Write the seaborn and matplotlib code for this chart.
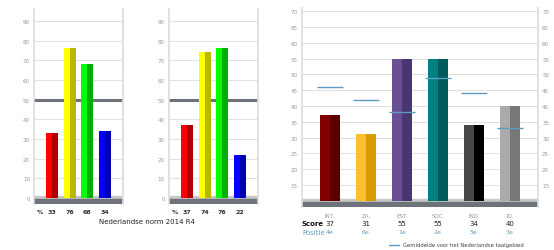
import numpy as np
import matplotlib
matplotlib.use("Agg")
import matplotlib.pyplot as plt
from matplotlib.patches import Rectangle
import seaborn as sns

# Data
groups = ["a", "b", "c", "d"]
norm_left = [33, 76, 68, 34]
norm_right = [37, 74, 76, 22]
norm_light = ["#ff0000", "#ffff00", "#00ff00", "#0000ff"]
norm_dark = ["#b00000", "#b8b800", "#00b000", "#0000b0"]

categories = ["INT.", "ZA.", "EST.", "SOC.", "IND.", "ID."]
scores = [37, 31, 55, 55, 34, 40]
positions = ["4e", "6e", "1e", "2e", "5e", "3e"]
averages = [46, 42, 38, 49, 44, 33]
score_light = ["#800000", "#fbbf2f", "#6a4f93", "#008080", "#474747", "#aaaaaa"]
score_dark = ["#5a0000", "#d89a00", "#4a3770", "#005c5c", "#000000", "#777777"]

sns.set_style("white")
plt.rcParams["font.family"] = ["DejaVu Sans"]

fig = plt.figure(figsize=(5.54, 2.51), dpi=100)

def split_bars(ax, darks):
    # right half of every bar in a darker shade, for the 3D look
    for patch, col in zip(ax.patches, darks):
        x, w, h, y0 = patch.get_x(), patch.get_width(), patch.get_height(), patch.get_y()
        ax.add_patch(Rectangle((x + w / 2, y0), w / 2, h, color=col, lw=0, zorder=patch.get_zorder() + 0.1))

def style_axes(ax, ticks):
    ax.set_yticks(ticks)
    ax.grid(axis="y", color="#e2e2e2", lw=0.8)
    ax.set_axisbelow(True)
    for s in ["top", "bottom"]:
        ax.spines[s].set_visible(False)
    for s in ["left", "right"]:
        ax.spines[s].set_color("#dcdcdc")
        ax.spines[s].set_linewidth(1.2)
    ax.tick_params(axis="y", length=0, labelsize=4, labelcolor="#999999", pad=3)
    ax.set_xticks([])
    ax.set_xlabel("")
    ax.set_ylabel("")

# two small norm charts
for left, vals in [(0.0614, norm_left), (0.305, norm_right)]:
    ax = fig.add_axes([left, 0.183, 0.1606, 0.777])
    sns.barplot(x=groups, y=vals, hue=groups, palette=norm_light, legend=False,
                width=0.67, saturation=1, linewidth=0, ax=ax, zorder=3)
    split_bars(ax, norm_dark)
    ax.set_xlim(-1, 4)
    ax.set_ylim(-3, 96)
    style_axes(ax, range(0, 91, 10))
    ax.axhspan(-0.5, 1.2, color="#c8c8c8", zorder=1)
    ax.axhspan(-3, -0.5, color="#6e737a", zorder=1)
    ax.axhline(50, color="#6e737a", lw=2.2, zorder=2)
    tr = ax.get_xaxis_transform()
    ax.text(-0.85, -0.037, "%", transform=tr, fontsize=4.5, fontweight="bold", color="#333333", va="center")
    for i, v in enumerate(vals):
        ax.text(i, -0.037, str(v), transform=tr, fontsize=4.5, fontweight="bold",
                color="#333333", ha="center", va="center")

fig.text(0.265, 0.116, "Nederlandse norm 2014 R4", fontsize=5, color="#222222", ha="center", va="center")

# score chart
ax = fig.add_axes([0.545, 0.171, 0.426, 0.793])
sns.barplot(x=categories, y=[s - 10 for s in scores], bottom=10, hue=categories, palette=score_light,
            legend=False, width=0.56, saturation=1, linewidth=0, ax=ax, zorder=3)
split_bars(ax, score_dark)
ax.set_xlim(-0.78, 5.78)
ax.set_ylim(8, 71)
style_axes(ax, range(15, 71, 5))
ax.tick_params(axis="y", labelright=True)
ax.axhspan(9.5, 10.5, color="#c8c8c8", zorder=1)
ax.axhspan(8, 9.5, color="#6e737a", zorder=1)
xs = np.arange(len(categories))
ax.hlines(averages, xs - 0.36, xs + 0.36, color="#5f9cc0", lw=1.0, zorder=4)

tr = ax.get_xaxis_transform()
for i in xs:
    ax.text(i, -0.04, categories[i], transform=tr, fontsize=4, color="#999999", ha="center", va="center")
    ax.text(i, -0.082, str(scores[i]), transform=tr, fontsize=5, color="#222222", ha="center", va="center")
    ax.text(i, -0.125, positions[i], transform=tr, fontsize=4.5, color="#5f9cc0", ha="center", va="center")
ax.text(-0.78, -0.082, "Score", transform=tr, fontsize=5, fontweight="bold", color="#111111", va="center")
ax.text(-0.78, -0.125, "Positie", transform=tr, fontsize=5, color="#5f9cc0", va="center")

# legend under the score chart
ax.plot([1.65, 1.92], [-0.19, -0.19], transform=tr, color="#5f9cc0", lw=1.0, clip_on=False)
ax.text(2.02, -0.19, "Gemiddelde voor het Nederlandse taalgebied", transform=tr,
        fontsize=3.8, color="#444444", va="center")

fig.savefig("out.png", dpi=100)
